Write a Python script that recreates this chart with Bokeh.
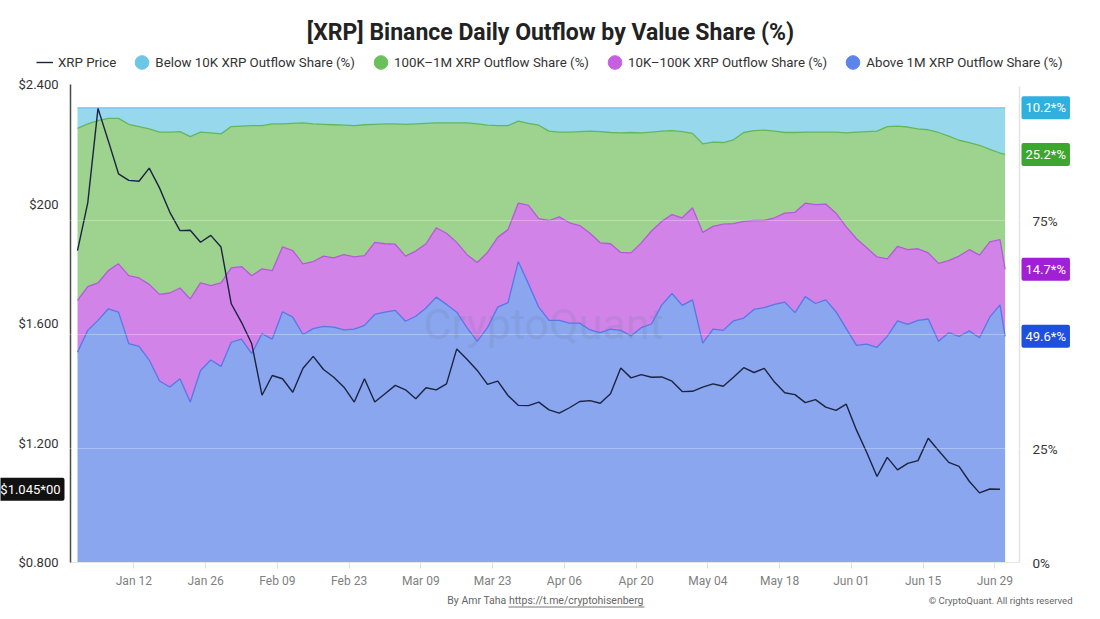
import traceback
import pandas as pd
from bokeh.plotting import figure
from bokeh.models import (ColumnDataSource, Range1d, LinearAxis, DatetimeAxis, FixedTicker,
                          DatetimeTickFormatter, PrintfTickFormatter, Label,
                          Legend, LegendItem, Span, BoxAnnotation, Div)
from bokeh.embed import file_html
from bokeh.resources import INLINE

# ---------------- data ----------------
share_dates = list(pd.date_range("2025-01-01", "2025-06-30", freq="2D")) + [pd.Timestamp("2025-07-01")]
price_dates = list(pd.date_range("2025-01-01", "2025-06-30", freq="2D"))

above_1m = [46.1, 50.9, 53.1, 55.6, 54.9, 48.0, 47.4, 44.4, 39.8, 38.5,
            40.3, 35.2, 42.1, 44.4, 43.0, 48.3, 49.0, 45.8, 50.2, 49.0,
            55.0, 53.8, 50.0, 51.3, 51.8, 51.6, 51.0, 51.2, 52.0, 54.4,
            54.9, 55.3, 52.9, 54.0, 55.8, 58.2, 56.6, 54.9, 51.5, 48.5,
            51.5, 56.0, 57.0, 66.0, 61.1, 56.0, 53.1, 53.1, 52.5, 52.5,
            51.0, 50.4, 51.2, 50.9, 49.7, 51.5, 52.3, 56.5, 59.0, 56.4,
            57.6, 48.1, 51.2, 50.9, 53.0, 53.6, 55.5, 55.9, 56.6, 57.1,
            54.8, 58.3, 56.8, 57.6, 55.0, 51.3, 47.6, 47.9, 47.2, 49.6,
            53.0, 52.2, 53.1, 53.4, 48.5, 50.4, 49.6, 50.8, 49.3, 53.8,
            56.5, 49.6]
k10_100k = [11.4, 9.6, 8.2, 8.4, 10.6, 14.9, 15.0, 16.6, 19.0, 20.6,
            19.9, 22.6, 19.2, 16.3, 18.3, 16.3, 15.9, 17.1, 14.2, 15.0,
            14.2, 14.6, 15.5, 14.7, 15.4, 15.2, 16.5, 15.8, 15.3, 15.8,
            15.0, 14.5, 14.3, 14.3, 14.1, 15.2, 15.6, 15.3, 16.0, 17.3,
            16.5, 15.3, 16.0, 12.8, 17.2, 19.4, 21.9, 22.7, 22.0, 21.4,
            21.2, 19.7, 18.7, 17.1, 18.2, 18.6, 20.4, 18.3, 17.3, 19.2,
            20.2, 24.3, 22.5, 23.3, 21.3, 21.2, 19.5, 19.1, 19.0, 19.5,
            22.0, 20.5, 21.7, 21.0, 21.6, 22.3, 23.4, 21.1, 19.8, 17.0,
            16.3, 16.4, 15.7, 14.5, 17.1, 15.8, 17.6, 17.8, 18.1, 16.5,
            14.3, 14.7]
k100k_1m = [37.7, 35.7, 35.6, 33.4, 31.9, 33.2, 33.2, 34.1, 35.6, 35.3,
            34.3, 35.6, 33.1, 33.5, 32.7, 31.0, 30.8, 32.9, 31.4, 32.2,
            27.0, 27.9, 30.9, 30.2, 28.9, 29.2, 28.4, 28.8, 28.7, 25.9,
            26.3, 26.4, 28.9, 27.9, 26.4, 23.0, 24.2, 26.2, 28.9, 30.4,
            27.9, 24.5, 22.8, 18.0, 18.0, 20.5, 19.6, 18.6, 19.9, 20.6,
            22.4, 24.4, 24.4, 26.2, 26.4, 24.1, 21.7, 19.8, 18.4, 18.9,
            16.3, 19.4, 18.5, 17.9, 18.4, 19.5, 19.7, 19.8, 19.0, 17.7,
            17.5, 15.6, 15.9, 15.8, 17.8, 20.6, 23.4, 25.5, 27.6, 29.0,
            26.4, 26.9, 26.3, 27.0, 28.7, 27.3, 25.4, 23.5, 24.1, 20.3,
            19.0, 25.2]
below_10k = [4.5, 3.5, 2.8, 2.3, 2.3, 3.6, 4.1, 4.6, 5.3, 5.3,
             5.2, 6.3, 5.3, 5.5, 5.7, 4.1, 4.0, 3.9, 3.9, 3.5,
             3.5, 3.4, 3.3, 3.5, 3.6, 3.7, 3.8, 3.9, 3.7, 3.6,
             3.5, 3.5, 3.6, 3.5, 3.4, 3.3, 3.3, 3.3, 3.3, 3.5,
             3.8, 3.9, 3.9, 2.9, 3.4, 3.8, 5.1, 5.3, 5.3, 5.2,
             5.1, 5.2, 5.4, 5.5, 5.4, 5.5, 5.3, 5.1, 5.0, 5.2,
             5.6, 7.9, 7.5, 7.6, 7.0, 5.4, 5.0, 4.9, 5.1, 5.4,
             5.4, 5.3, 5.3, 5.3, 5.3, 5.5, 5.3, 5.2, 5.1, 4.1,
             4.0, 4.2, 4.6, 4.8, 5.4, 6.2, 7.1, 7.6, 8.2, 9.1,
             9.9, 10.2]
xrp_price = [1.844, 2.004, 2.320, 2.212, 2.101, 2.079, 2.076, 2.120, 2.054, 1.973,
             1.911, 1.912, 1.872, 1.895, 1.856, 1.666, 1.604, 1.532, 1.360, 1.426,
             1.415, 1.370, 1.450, 1.490, 1.446, 1.420, 1.387, 1.337, 1.415, 1.337,
             1.365, 1.393, 1.378, 1.348, 1.385, 1.378, 1.398, 1.515, 1.480, 1.443,
             1.396, 1.407, 1.359, 1.326, 1.325, 1.337, 1.311, 1.300, 1.318, 1.339,
             1.342, 1.333, 1.365, 1.451, 1.418, 1.429, 1.420, 1.421, 1.407, 1.372,
             1.373, 1.387, 1.398, 1.390, 1.420, 1.452, 1.436, 1.450, 1.404, 1.368,
             1.362, 1.335, 1.345, 1.320, 1.309, 1.330, 1.243, 1.168, 1.088, 1.152,
             1.110, 1.132, 1.141, 1.216, 1.175, 1.135, 1.122, 1.072, 1.033, 1.046,
             1.045]

tick_dates = ["2025-01-12", "2025-01-26", "2025-02-09", "2025-02-23", "2025-03-09",
              "2025-03-23", "2025-04-06", "2025-04-20", "2025-05-04", "2025-05-18",
              "2025-06-01", "2025-06-15", "2025-06-29"]
price_ticks = [0.8, 1.2, 1.6, 2.0, 2.4]
price_tick_labels = ["$0.800", "$1.200", "$1.600", "$200", "$2.400"]
pct_ticks = [0, 25, 75]
pct_grid = [25, 50, 75]
current_price_text = "$1.045*00"

title_text = "[XRP] Binance Daily Outflow by Value Share (%)"
name_price = "XRP Price"
name_above = "Above 1M XRP Outflow Share (%)"
name_mid = "10K\u2013100K XRP Outflow Share (%)"
name_big = "100K\u20131M XRP Outflow Share (%)"
name_small = "Below 10K XRP Outflow Share (%)"
footer_left = "By Amr Taha https://t.me/cryptohisenberg"
footer_right = "\u00a9 CryptoQuant. All rights reserved"
watermark = "CryptoQuant"

# ---------------- style / layout (pixels of the picture) ----------------
FONT = "Roboto"
W, H = 1092, 611
X_FIRST = 77          # pixel x of the first date
X_AXIS_L = 70         # left axis line
X_AXIS_R = 1019       # right axis line
Y_BASE = 562          # pixel y of $0.800 / 0 %
PX_PER_DAY = 5.125
PX_PER_USD = 298.75
PX_PER_PCT = 4.56

fill_colors = ["#89a6ee", "#d283e8", "#9dd38f", "#98d8ec"]
line_colors = ["#5577e8", "#b45ad8", "#5fb85a", "#6cc8e6"]
legend_colors = {"small": "#6cc6e6", "big": "#6cc05c", "mid": "#c660e0", "above": "#5d83ec"}
tag_colors = ["#1e4fe0", "#a020d6", "#3da62f", "#2fb0de"]
price_color = "#1b2340"

T0 = pd.Timestamp("2025-01-01")


def px_to_ms(px):
    ts = T0 + pd.Timedelta(minutes=round(24 * 60 * (px - X_FIRST) / PX_PER_DAY))
    return ts.timestamp() * 1000


def build():
    src = ColumnDataSource(dict(date=pd.to_datetime(share_dates).values,
                                above=above_1m, mid=k10_100k, big=k100k_1m, small=below_10k))
    psrc = ColumnDataSource(dict(date=pd.to_datetime(price_dates).values, price=xrp_price))

    p = figure(width=W, height=H,
               x_range=Range1d(start=px_to_ms(0), end=px_to_ms(W)),
               y_range=Range1d(start=0.8 - (H - Y_BASE) / PX_PER_USD, end=0.8 + Y_BASE / PX_PER_USD),
               x_axis_location=None, y_axis_location=None,
               output_backend="svg", toolbar_location=None,
               min_border=0, min_border_left=0, min_border_right=0,
               min_border_top=0, min_border_bottom=0,
               outline_line_color=None)
    p.extra_y_ranges = {"pct": Range1d(start=-(H - Y_BASE) / PX_PER_PCT, end=Y_BASE / PX_PER_PCT)}
    p.xgrid.visible = False
    p.ygrid.visible = False

    stack = ["above", "mid", "big", "small"]
    p.varea_stack(stackers=stack, x="date", color=fill_colors, source=src, y_range_name="pct")
    p.vline_stack(stackers=stack, x="date", color=line_colors, line_width=1.3,
                  source=src, y_range_name="pct")

    for g in pct_grid:
        p.add_layout(Span(location=g, dimension="width", y_range_name="pct",
                          line_color="#ffffff", line_alpha=0.3, line_width=1))

    price_r = p.line(x="date", y="price", source=psrc, color=price_color, line_width=1.4)

    # ---- axes (fixed at the frame edges of the original chart) ----
    la = LinearAxis(fixed_location=px_to_ms(X_AXIS_L), bounds=(price_ticks[0], price_ticks[-1]),
                    ticker=FixedTicker(ticks=price_ticks))
    la.major_label_overrides = {float(k): v for k, v in zip(price_ticks, price_tick_labels)}
    la.axis_line_color = "#4a4a4a"
    la.axis_line_width = 1.5
    la.major_tick_line_color = None
    la.minor_tick_line_color = None
    la.major_label_standoff = 6
    la.major_label_text_font = FONT
    la.major_label_text_font_size = "13px"
    la.major_label_text_color = "#333333"
    p.add_layout(la, "left")

    ra = LinearAxis(y_range_name="pct", fixed_location=px_to_ms(X_AXIS_R),
                    bounds=(0, (Y_BASE - 86) / PX_PER_PCT),
                    ticker=FixedTicker(ticks=pct_ticks),
                    formatter=PrintfTickFormatter(format="%d%%"))
    ra.axis_line_color = "#e2e2e2"
    ra.axis_line_width = 1.5
    ra.major_tick_line_color = None
    ra.minor_tick_line_color = None
    ra.major_label_standoff = 7
    ra.major_label_text_font = FONT
    ra.major_label_text_font_size = "13.5px"
    ra.major_label_text_color = "#333333"
    p.add_layout(ra, "right")

    xa = DatetimeAxis(fixed_location=0.8, bounds=(px_to_ms(X_AXIS_L), px_to_ms(X_AXIS_R)),
                      ticker=FixedTicker(ticks=[pd.Timestamp(d).timestamp() * 1000 for d in tick_dates]),
                      formatter=DatetimeTickFormatter(days="%b %d", months="%b %d"))
    xa.axis_line_color = "#e6e6e6"
    xa.major_tick_line_color = "#e0e0e0"
    xa.major_tick_out = 6
    xa.major_tick_in = 0
    xa.minor_tick_line_color = None
    xa.major_label_standoff = 5
    xa.major_label_text_font = FONT
    xa.major_label_text_font_size = "12px"
    xa.major_label_text_color = "#808080"
    p.add_layout(xa, "below")

    # ---- legend (dummy glyphs far outside the visible range) ----
    far = pd.to_datetime(["2020-01-01"]).values
    dots = {}
    for k, c in legend_colors.items():
        dots[k] = p.ellipse(x=far, y=[0.0], width=10, height=10,
                            width_units="screen", height_units="screen",
                            fill_color=c, line_color=c)
    legend = Legend(items=[LegendItem(label=name_price, renderers=[price_r]),
                           LegendItem(label=name_small, renderers=[dots["small"]]),
                           LegendItem(label=name_big, renderers=[dots["big"]]),
                           LegendItem(label=name_mid, renderers=[dots["mid"]]),
                           LegendItem(label=name_above, renderers=[dots["above"]])],
                    orientation="horizontal", location=(36, H - 72),
                    glyph_width=17, glyph_height=18, label_height=20, label_standoff=5,
                    spacing=17, padding=0, margin=0, border_line_color=None,
                    background_fill_alpha=0,
                    label_text_font=FONT, label_text_font_size="13.3px",
                    label_text_color="#333333")
    p.add_layout(legend)

    # ---- texts ----
    p.add_layout(Label(x=550, y=H - 32, x_units="screen", y_units="screen", text=title_text,
                       text_font=FONT, text_font_size="23px", text_font_style="bold",
                       text_color="#222222", text_align="center", text_baseline="middle"))
    p.add_layout(Label(x=543, y=H - 323, x_units="screen", y_units="screen", text=watermark,
                       text_font=FONT, text_font_size="43px", text_color="#6f7fa8",
                       text_alpha=0.2, text_align="center", text_baseline="middle"))
    p.add_layout(Label(x=545, y=H - 600, x_units="screen", y_units="screen", text=footer_left,
                       text_font=FONT, text_font_size="10.5px", text_color="#666666",
                       text_align="center", text_baseline="middle"))
    p.add_layout(BoxAnnotation(left=508, right=644, bottom=H - 607, top=H - 606,
                               left_units="screen", right_units="screen",
                               bottom_units="screen", top_units="screen",
                               fill_color="#777777", fill_alpha=1.0, line_color=None))
    p.add_layout(Label(x=1072, y=H - 600, x_units="screen", y_units="screen", text=footer_right,
                       text_font=FONT, text_font_size="9.5px", text_color="#666666",
                       text_align="right", text_baseline="middle"))

    # current price tag (left of the price axis)
    p.add_layout(Label(x=X_AXIS_L - 6, y=xrp_price[-1], x_units="screen", text=current_price_text,
                       text_font=FONT, text_font_size="13px", text_color="white",
                       background_fill_color="#111111", padding=4, border_radius=2,
                       text_align="right", text_baseline="middle"))

    # last-value share tags at their cumulative levels
    last_vals = [above_1m[-1], k10_100k[-1], k100k_1m[-1], below_10k[-1]]
    cum = 0.0
    for v, c in zip(last_vals, tag_colors):
        cum += v
        p.add_layout(Label(x=X_AXIS_R + 2, y=cum, x_units="screen", y_range_name="pct",
                           text=f"{v}*%", text_font=FONT, text_font_size="13px",
                           text_color="white", background_fill_color=c, padding=4,
                           border_radius=2, text_align="left", text_baseline="middle"))
    return p


try:
    p = build()
except Exception:
    p = Div(text="<pre>" + traceback.format_exc() + "</pre>", width=1080, height=600)

open("out.html", "w").write(file_html(p, INLINE))
